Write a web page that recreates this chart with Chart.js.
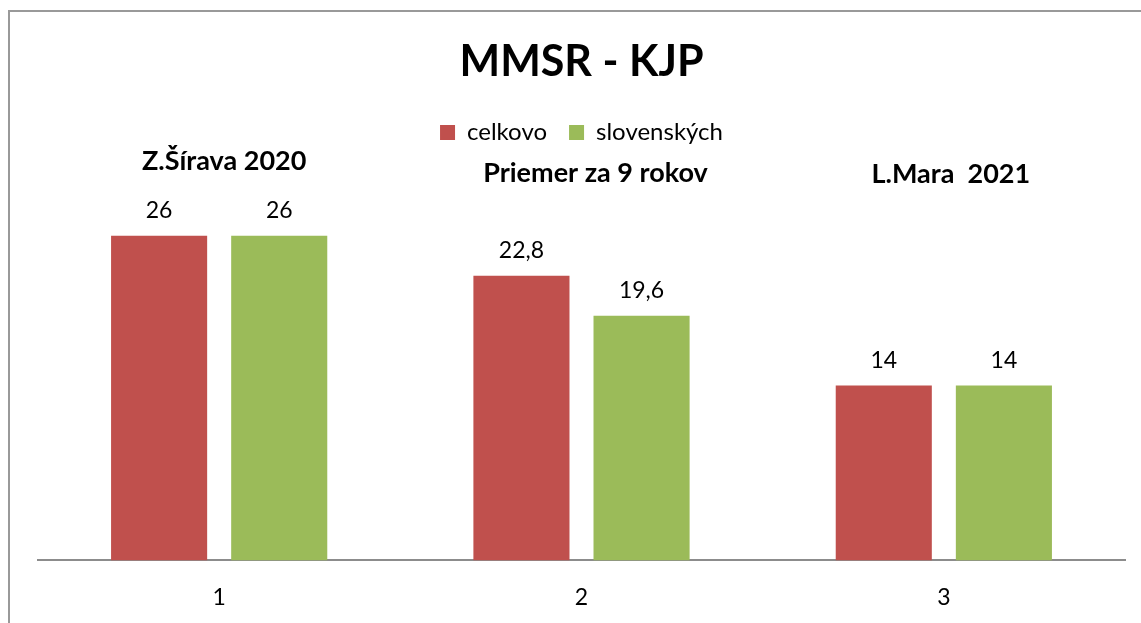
<!DOCTYPE html>
<html>
<head>
<meta charset="utf-8">
<script src="https://cdn.jsdelivr.net/npm/chart.js@4.4.0/dist/chart.umd.min.js"></script>
<style>
  html, body { margin: 0; padding: 0; background: #fff; overflow: hidden; }
  #wrap { position: relative; width: 1141px; height: 623px; }
  #frame { position: absolute; left: 8px; top: 10px; width: 1200px; height: 700px;
           border-top: 2px solid #999; border-left: 2px solid #999; box-sizing: border-box; }
  canvas { position: absolute; left: 0; top: 0; }
</style>
</head>
<body>
<div id="wrap">
  <div id="frame"></div>
  <canvas id="chart" width="1141" height="623"></canvas>
</div>
<script>
// Données
const categories = ["1", "2", "3"];
const groupLabels = ["Z.Šírava 2020", "Priemer za 9 rokov", "L.Mara  2021"];
const celkovo = [26, 22.8, 14];
const slovenskych = [26, 19.6, 14];

const fontName = "Lato, 'Open Sans', sans-serif";

// popisky nad skupinami (Z.Šírava, Priemer, L.Mara)
const groupLabelPlugin = {
  id: "groupLabels",
  afterDraw(chart) {
    const ctx = chart.ctx;
    const x = chart.scales.x;
    const pos = [{ dx: 5, y: 161 }, { dx: 14, y: 173 }, { dx: 7, y: 174 }];
    ctx.save();
    ctx.fillStyle = "#000";
    ctx.textAlign = "center";
    ctx.textBaseline = "middle";
    ctx.font = "bold 27px " + fontName;
    groupLabels.forEach((txt, i) => {
      ctx.fillText(txt, x.getPixelForValue(i) + pos[i].dx, pos[i].y);
    });
    ctx.restore();
  }
};

// hodnoty nad stĺpcami
const valueLabelPlugin = {
  id: "valueLabels",
  afterDatasetsDraw(chart) {
    const ctx = chart.ctx;
    ctx.save();
    ctx.fillStyle = "#000";
    ctx.font = "23px " + fontName;
    ctx.textAlign = "center";
    ctx.textBaseline = "middle";
    chart.data.datasets.forEach((ds, di) => {
      chart.getDatasetMeta(di).data.forEach((bar, i) => {
        const txt = String(ds.data[i]).replace(".", ",");
        ctx.fillText(txt, bar.x, bar.y - 25);
      });
    });
    ctx.restore();
  }
};

new Chart(document.getElementById("chart"), {
  type: "bar",
  data: {
    labels: categories,
    datasets: [
      { label: "celkovo", data: celkovo, backgroundColor: "#C0504D" },
      { label: "slovenských", data: slovenskych, backgroundColor: "#9BBB59" }
    ]
  },
  options: {
    responsive: false,
    animation: false,
    devicePixelRatio: 1,
    layout: { padding: { left: 38, right: 16, top: 0, bottom: -11 } },
    categoryPercentage: 0.663,
    barPercentage: 0.8,
    plugins: {
      title: {
        display: true,
        text: "MMSR - KJP",
        color: "#000",
        font: { family: fontName, size: 43, weight: "bold", lineHeight: 1.2 },
        padding: { top: 36, bottom: 11 }
      },
      legend: {
        display: true,
        labels: {
          color: "#000",
          font: { family: fontName, size: 24 },
          boxWidth: 15,
          boxHeight: 15,
          padding: 22
        }
      },
      tooltip: { enabled: false }
    },
    scales: {
      x: {
        grid: { display: false, drawTicks: false },
        border: { display: true, color: "#8c8c8c", width: 2 },
        ticks: { color: "#000", font: { family: fontName, size: 23 }, padding: 23 }
      },
      y: {
        display: false,
        min: 0,
        max: 32.5
      }
    }
  },
  plugins: [groupLabelPlugin, valueLabelPlugin]
});
</script>
</body>
</html>
